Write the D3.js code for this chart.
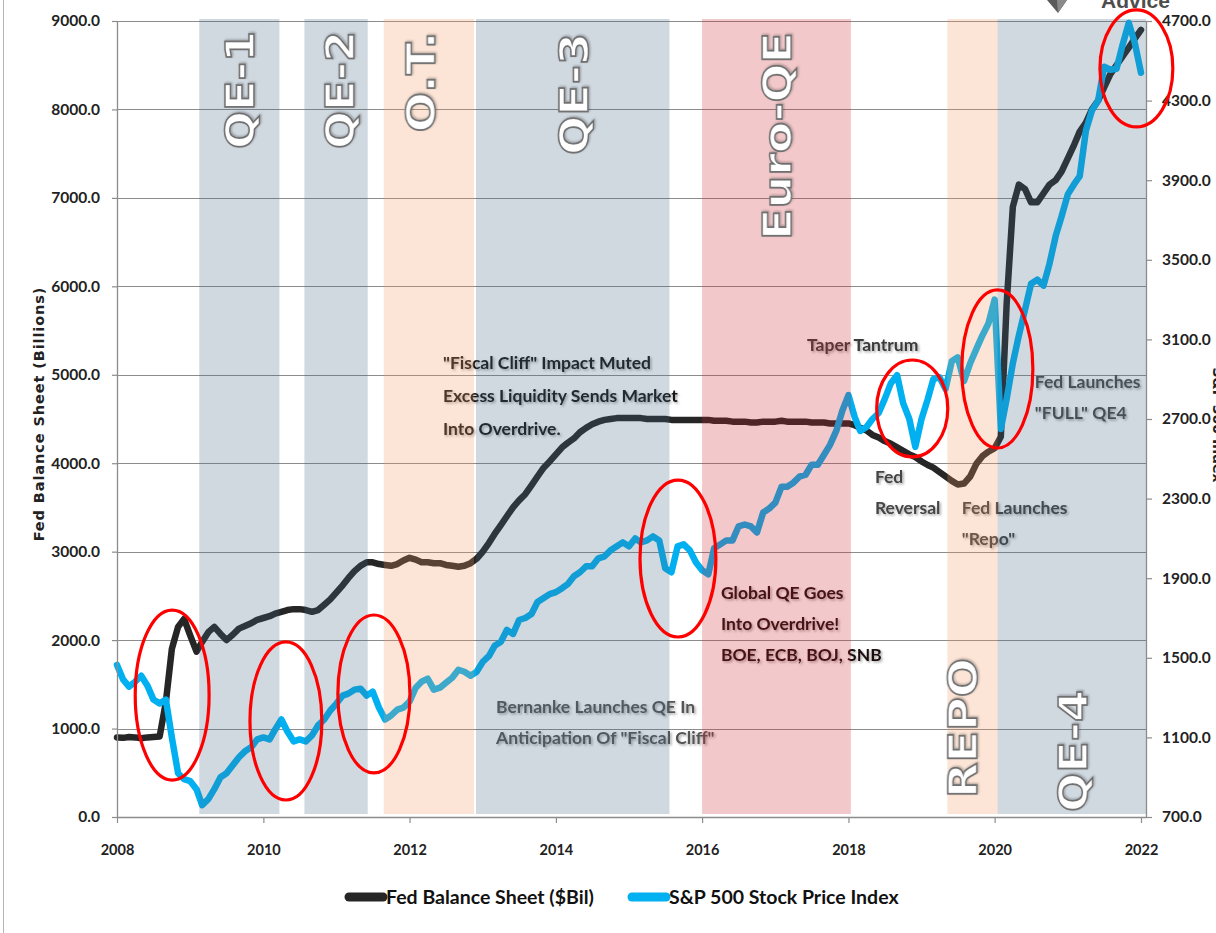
<!DOCTYPE html>
<html><head><meta charset="utf-8">
<script src="https://cdn.jsdelivr.net/npm/d3@7"></script>
<style>
html,body{margin:0;padding:0;background:#fff;}
svg{display:block;}
</style></head><body>
<svg id="chart" width="1216" height="933"></svg>
<script>
// ---------------- DATA ----------------
const firstMonth = "2008-01";
const lastMonth = "2022-01";
// Fed balance sheet ($ billions), monthly 2008-01 .. 2022-01
const fedBalance = [
  900,895,905,900,890,900,905,910,1300,1900,2150,2240,
  2050,1870,1980,2090,2150,2070,2000,2060,2130,2160,2190,2230,
  2250,2270,2300,2320,2340,2350,2350,2340,2320,2340,2400,2460,
  2540,2620,2700,2780,2840,2880,2880,2860,2850,2840,2860,2900,
  2930,2910,2880,2880,2870,2870,2850,2840,2830,2840,2870,2920,
  3000,3100,3200,3300,3400,3500,3580,3650,3750,3850,3950,4020,
  4100,4180,4230,4280,4350,4400,4440,4470,4490,4500,4510,4510,
  4510,4510,4510,4500,4500,4500,4500,4490,4490,4490,4490,4490,
  4490,4490,4480,4480,4480,4470,4470,4470,4460,4460,4470,4470,
  4470,4480,4470,4470,4470,4470,4460,4460,4460,4450,4450,4450,
  4450,4430,4400,4370,4320,4290,4250,4220,4180,4140,4100,4070,
  4020,3980,3950,3900,3850,3800,3760,3770,3850,3990,4080,4130,
  4170,4300,5800,6900,7150,7100,6950,6950,7050,7150,7200,7300,
  7450,7600,7750,7850,8000,8100,8250,8400,8500,8600,8700,8800,
  8900
];
// S&P 500 index, monthly 2008-01 .. 2022-01
const sp500 = [
  1464,1390,1355,1380,1410,1360,1290,1270,1290,1100,920,890,
  880,840,760,790,840,900,920,960,1000,1030,1050,1090,
  1100,1090,1140,1190,1130,1080,1090,1080,1110,1160,1190,1235,
  1270,1310,1320,1340,1345,1310,1330,1250,1190,1210,1240,1250,
  1280,1350,1380,1395,1340,1350,1375,1400,1440,1430,1410,1430,
  1480,1510,1560,1580,1640,1620,1690,1700,1720,1780,1800,1820,
  1830,1850,1870,1910,1930,1960,1960,2000,2010,2040,2060,2080,
  2060,2100,2080,2090,2110,2090,1950,1930,2060,2070,2040,1980,
  1940,1920,2050,2070,2090,2090,2160,2170,2160,2130,2230,2250,
  2280,2360,2360,2380,2410,2420,2470,2470,2520,2570,2640,2740,
  2820,2710,2640,2660,2700,2730,2800,2880,2920,2780,2700,2560,
  2700,2800,2900,2910,2850,2990,3010,2890,2980,3050,3120,3180,
  3300,2650,2800,2980,3120,3250,3380,3400,3370,3480,3620,3720,
  3830,3880,3920,4150,4250,4300,4470,4455,4460,4580,4690,4590,
  4440
];
const leftTicks = [0,1000,2000,3000,4000,5000,6000,7000,8000,9000];
const rightTicks = [700,1100,1500,1900,2300,2700,3100,3500,3900,4300,4700];
const yearTicks = ["2008","2010","2012","2014","2016","2018","2020","2022"];
const xDomain = ["2008-01-01","2022-01-26"];

// Policy regimes (shaded bands)
const bandNames  = ["QE-1","QE-2","O.T.","QE-3","Euro-QE","REPO","QE-4"];
const bandStarts = ["2009-02-15","2010-07-25","2011-08-25","2012-11-28","2016-01-01","2019-05-10","2020-01-16"];
const bandEnds   = ["2010-03-22","2011-06-06","2012-11-18","2015-07-22","2018-01-13","2020-01-16","2022-01-26"];
const bandKinds  = ["qe","qe","ot","qe","euro","ot","qe"];
const bandLabelDates  = ["2009-09-06","2011-01-18","2012-02-26","2014-04-01","2017-01-10","2019-07-26","2021-01-27"];
const bandLabelValues = [8220,8220,8311,8175,7700,1006,746];

// Annotations (anchor date, left-axis value of first baseline)
const noteTexts = [
  ["\"Fiscal Cliff\" Impact Muted","Excess Liquidity Sends Market","Into Overdrive."],
  ["Taper Tantrum"],
  ["Fed","Reversal"],
  ["Fed Launches","\"Repo\""],
  ["Fed Launches","\"FULL\" QE4"],
  ["Global QE Goes","Into Overdrive!","BOE, ECB, BOJ, SNB"],
  ["Bernanke Launches QE In","Anticipation Of \"Fiscal Cliff\""]
];
const noteDates  = ["2012-06-16","2017-06-08","2018-05-13","2019-07-21","2020-07-20","2016-04-04","2013-03-08"];
const noteValues = [5066,5269,3777,3426,4851,2465,1176];

// Red circles (date span, value span on left axis)
const ringStarts  = ["2008-04-01","2009-10-26","2011-01-08","2015-02-25","2018-05-22","2019-07-21","2021-06-10"];
const ringEnds    = ["2009-04-05","2010-10-20","2012-01-03","2016-03-10","2019-05-12","2020-07-10","2022-06-09"];
const ringTops    = [2340,1979,2284,3810,5167,5959,9125];
const ringBottoms = [418,192,498,2035,4071,4172,7802];

const legendNames = ["Fed Balance Sheet ($Bil)","S&P 500 Stock Price Index"];

// ---------------- CHART ----------------
const svg = d3.select("#chart");
const P = {left:117, right:1146, top:21, bottom:817};
const parseM = d3.timeParse("%Y-%m");
const parseD = d3.timeParse("%Y-%m-%d");
const parseY = d3.timeParse("%Y");
const months = d3.timeMonth.range(parseM(firstMonth), d3.timeMonth.offset(parseM(lastMonth),1));

const x = d3.scaleTime().domain(xDomain.map(parseD)).range([P.left, P.right]);
const yL = d3.scaleLinear().domain([0,9000]).range([P.bottom, P.top]);
const yR = d3.scaleLinear().domain([700,4700]).range([P.bottom, P.top]);

const sans = "Lato, 'Open Sans', sans-serif";
const defs = svg.append("defs");
const f = defs.append("filter").attr("id","tshadow").attr("x","-10%").attr("y","-30%").attr("width","130%").attr("height","170%");
f.append("feDropShadow").attr("dx",1.5).attr("dy",1.5).attr("stdDeviation",1.2).attr("flood-color","#000").attr("flood-opacity",0.35);
const f2 = defs.append("filter").attr("id","lshadow").attr("x","-10%").attr("y","-10%").attr("width","130%").attr("height","130%");
f2.append("feDropShadow").attr("dx",1).attr("dy",1).attr("stdDeviation",0.8).attr("flood-color","#000").attr("flood-opacity",0.3);

svg.append("rect").attr("width",1216).attr("height",933).attr("fill","#fff");
svg.append("line").attr("x1",3.5).attr("x2",3.5).attr("y1",0).attr("y2",933).attr("stroke","#b5b5b5").attr("stroke-width",1);

// gridlines
svg.append("g").selectAll("line").data(leftTicks).join("line")
  .attr("x1",P.left).attr("x2",P.right)
  .attr("y1",d=>Math.round(yL(d))+0.5).attr("y2",d=>Math.round(yL(d))+0.5)
  .attr("stroke","#8c8c8c").attr("stroke-width",1.2);

// lines
const fedLine = d3.line().x((d,i)=>x(months[i])).y(d=>yL(d));
const spLine = d3.line().x((d,i)=>x(months[i])).y(d=>yR(d));
svg.append("path").datum(fedBalance).attr("d",fedLine).attr("fill","none")
  .attr("stroke","#262626").attr("stroke-width",6.5).attr("stroke-linejoin","round").attr("stroke-linecap","round");
svg.append("path").datum(sp500).attr("d",spLine).attr("fill","none")
  .attr("stroke","#00b0f0").attr("stroke-width",6.5).attr("stroke-linejoin","round").attr("stroke-linecap","round");

// annotations
const noteColors = ["#141414","#3a3a3a","#454545","#3f3f3f","#4a4a4a","#1a1010","#555555"];
noteTexts.forEach((lines,i)=>{
  const t = svg.append("text")
    .attr("x", x(parseD(noteDates[i]))).attr("y", yL(noteValues[i]))
    .attr("font-family",sans).attr("font-weight","bold").attr("font-size",17.5)
    .attr("fill",noteColors[i]).attr("filter","url(#tshadow)");
  lines.forEach((ln,j)=>{
    t.append("tspan").attr("x", x(parseD(noteDates[i]))).attr("dy", j===0?0:(i===0?33:31)).text(ln);
  });
});

// band overlays
const bandFill = {qe:"rgb(67,99,131)", ot:"rgb(243,151,91)", euro:"rgb(203,35,43)"};
svg.append("g").selectAll("rect").data(bandNames).join("rect")
  .attr("x",(d,i)=>x(parseD(bandStarts[i])))
  .attr("width",(d,i)=>x(parseD(bandEnds[i]))-x(parseD(bandStarts[i])))
  .attr("y",P.top-2).attr("height",P.bottom-P.top-1)
  .attr("fill",(d,i)=>bandFill[bandKinds[i]]).attr("fill-opacity",0.25);

// axes
const axL = svg.append("g").attr("transform",`translate(${P.left},0)`)
  .call(d3.axisLeft(yL).tickValues(leftTicks).tickFormat(d=>d.toFixed(1)).tickSize(5).tickSizeOuter(0).tickPadding(12));
const axR = svg.append("g").attr("transform",`translate(${P.right},0)`)
  .call(d3.axisRight(yR).tickValues(rightTicks).tickFormat(d=>d.toFixed(1)).tickSize(6).tickSizeOuter(0).tickPadding(10));
const axB = svg.append("g").attr("transform",`translate(0,${P.bottom})`)
  .call(d3.axisBottom(x).tickValues(yearTicks.map(parseY)).tickFormat(d3.timeFormat("%Y")).tickSize(6).tickSizeOuter(0).tickPadding(22));
[axL,axR,axB].forEach(a=>{
  a.select(".domain").attr("stroke","#8c8c8c").attr("stroke-width",1.3);
  a.selectAll(".tick line").attr("stroke","#8c8c8c").attr("stroke-width",1.2);
  a.selectAll("text").attr("font-family",sans).attr("font-weight","bold").attr("fill","#222");
});
axL.selectAll("text").attr("font-size",15.5);
axR.selectAll("text").attr("font-size",15.5);
axB.selectAll("text").attr("font-size",14.5);

// axis titles
svg.append("text").attr("transform","translate(44,414) rotate(-90)")
  .attr("text-anchor","middle").attr("font-family","'DejaVu Sans', sans-serif").attr("font-weight","bold")
  .attr("font-size",14.5).attr("letter-spacing",0.9).attr("fill","#222").text("Fed Balance Sheet (Billions)");
svg.append("text").attr("transform","translate(1213,425) rotate(90)")
  .attr("text-anchor","middle").attr("font-family","'DejaVu Sans', sans-serif").attr("font-weight","bold")
  .attr("font-size",14).attr("fill","#222").text("S&P 500 Index");

// band labels
const labelLengths = [118,118,101,122,208,140,122];
bandNames.forEach((nm,i)=>{
  svg.append("text")
    .attr("transform",`translate(${x(parseD(bandLabelDates[i]))},${yL(bandLabelValues[i])}) rotate(-90)`)
    .attr("text-anchor","middle").attr("dy","0.36em")
    .attr("font-family","'DejaVu Sans', sans-serif").attr("font-weight","bold").attr("font-size",39)
    .attr("textLength",labelLengths[i]).attr("lengthAdjust","spacingAndGlyphs")
    .attr("fill","#fff").attr("stroke","#6e6e6e").attr("stroke-width",1.5)
    .attr("filter","url(#lshadow)")
    .text(nm);
});

// red circles
svg.append("g").selectAll("ellipse").data(ringStarts).join("ellipse")
  .attr("cx",(d,i)=>(x(parseD(ringStarts[i]))+x(parseD(ringEnds[i])))/2)
  .attr("cy",(d,i)=>(yL(ringTops[i])+yL(ringBottoms[i]))/2)
  .attr("rx",(d,i)=>(x(parseD(ringEnds[i]))-x(parseD(ringStarts[i])))/2)
  .attr("ry",(d,i)=>(yL(ringBottoms[i])-yL(ringTops[i]))/2)
  .attr("fill","none").attr("stroke","#f00").attr("stroke-width",3.2);

// legend
const lg = svg.append("g");
const legColors = ["#262626","#00b0f0"];
const legX = [345, 628];
legendNames.forEach((nm,i)=>{
  lg.append("line").attr("x1",legX[i]+4).attr("x2",legX[i]+38).attr("y1",897).attr("y2",897)
    .attr("stroke",legColors[i]).attr("stroke-width",9).attr("stroke-linecap","round");
  lg.append("text").attr("x",legX[i]+41).attr("y",904).attr("font-family",sans).attr("font-weight","bold")
    .attr("font-size",19.5).attr("fill","#111").text(nm);
});

// logo fragment
svg.append("path").attr("d","M1047,0 L1067,0 L1058,13 Z").attr("fill","#5a5a5a");
svg.append("path").attr("d","M1057,0 L1067,0 L1058,13 Z").attr("fill","#8a8a8a");
svg.append("text").attr("x",1101).attr("y",8).attr("font-family","'Liberation Sans', Arial, sans-serif")
  .attr("font-weight","bold").attr("font-size",21).attr("fill","#4d4d4d").text("Advice");
</script>
</body></html>
